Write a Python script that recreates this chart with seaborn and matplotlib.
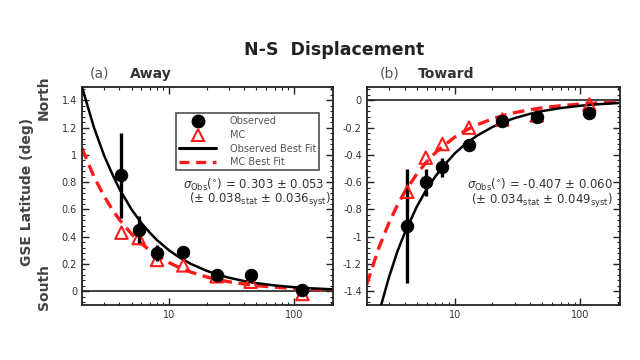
import matplotlib
matplotlib.use("Agg")
import matplotlib.pyplot as plt
import numpy as np
import pandas as pd
import seaborn as sns
from matplotlib.lines import Line2D
from matplotlib.ticker import MultipleLocator, FixedLocator, LogLocator, NullFormatter

# ---- data ----
bin_x_away = [4.15, 5.7, 8.0, 13, 24, 45, 117]
obs_away = [0.85, 0.45, 0.28, 0.285, 0.12, 0.12, 0.01]
obs_err_away = [0.31, 0.10, 0.06, 0.04, 0.03, 0.03, 0.02]
mc_away = [0.43, 0.39, 0.23, 0.19, 0.11, 0.07, -0.02]

bin_x_toward = [4.2, 5.9, 8.0, 13, 24, 45, 118]
obs_toward = [-0.92, -0.60, -0.49, -0.33, -0.15, -0.12, -0.09]
obs_err_toward = [0.42, 0.10, 0.07, 0.04, 0.03, 0.03, 0.02]
mc_toward = [-0.67, -0.42, -0.32, -0.20, -0.14, -0.11, -0.03]

fit_x = [2, 2.5, 3, 3.5, 4, 5, 6, 7, 8, 10, 12, 15, 20, 25, 30, 40, 50, 70, 100, 140, 200]
fit_obs_away = [1.50, 1.20, 1.00, 0.86, 0.75, 0.60, 0.50, 0.43, 0.375, 0.30, 0.25, 0.20,
                0.15, 0.12, 0.10, 0.075, 0.06, 0.043, 0.03, 0.021, 0.015]
fit_mc_away = [1.05, 0.84, 0.70, 0.60, 0.525, 0.42, 0.35, 0.30, 0.26, 0.21, 0.175, 0.14,
               0.105, 0.084, 0.07, 0.053, 0.042, 0.03, 0.021, 0.015, 0.0105]
fit_obs_toward = [-1.95, -1.56, -1.30, -1.11, -0.975, -0.78, -0.65, -0.56, -0.49, -0.39, -0.325,
                  -0.26, -0.195, -0.156, -0.13, -0.098, -0.078, -0.056, -0.039, -0.028, -0.0195]
fit_mc_toward = [-1.35, -1.08, -0.90, -0.77, -0.675, -0.54, -0.45, -0.386, -0.34, -0.27, -0.225,
                 -0.18, -0.135, -0.108, -0.09, -0.068, -0.054, -0.039, -0.027, -0.019, -0.0135]

away_ticks = [0, 0.2, 0.4, 0.6, 0.8, 1, 1.2, 1.4]
away_labels = ["0", "0.2", "0.4", "0.6", "0.8", "1", "1.2", "1.4"]
toward_ticks = [0, -0.2, -0.4, -0.6, -0.8, -1, -1.2, -1.4]
toward_labels = ["0", "-0.2", "-0.4", "-0.6", "-0.8", "-1", "-1.2", "-1.4"]

sns.set_style("ticks")
plt.rcParams["font.family"] = ["DejaVu Sans"]
TXT = "#333333"
RED = "#ff1a1a"

fig = plt.figure(figsize=(6.4, 3.6), dpi=100)
ax_a = fig.add_axes([0.128, 0.153, 0.392, 0.606])
ax_b = fig.add_axes([0.573, 0.153, 0.395, 0.606])


def draw_panel(ax, bx, obs, err, mc, fobs, fmc, ylim, ticks, labels):
    fits = pd.DataFrame({"x": fit_x, "obs": fobs, "mc": fmc})
    ax.axhline(0, color="#222222", lw=1.2, zorder=1)
    sns.lineplot(data=fits, x="x", y="mc", ax=ax, color=RED, lw=2.4,
                 linestyle=(0, (3.5, 2)), zorder=2)
    sns.lineplot(data=fits, x="x", y="obs", ax=ax, color="black", lw=1.8, zorder=3)
    ax.errorbar(bx, obs, yerr=err, fmt="none", ecolor="black", elinewidth=2.4, zorder=4)
    ax.scatter(bx, mc, marker="^", s=80, facecolors="none", edgecolors=RED,
               linewidths=1.5, zorder=5)
    sns.scatterplot(x=bx, y=obs, ax=ax, color="black", s=80, edgecolor="black", zorder=6)
    ax.set_xscale("log")
    ax.set_xlim(2, 205)
    ax.set_ylim(*ylim)
    ax.xaxis.set_major_locator(FixedLocator([10, 100]))
    ax.set_xticklabels(["10", "100"])
    ax.xaxis.set_minor_locator(LogLocator(base=10, subs=np.arange(2, 10)))
    ax.xaxis.set_minor_formatter(NullFormatter())
    ax.yaxis.set_major_locator(FixedLocator(ticks))
    ax.set_yticklabels(labels)
    ax.yaxis.set_minor_locator(MultipleLocator(0.04))
    ax.tick_params(which="both", direction="in", top=True, right=True,
                   labelsize=7, labelcolor=TXT, color="#222222")
    ax.tick_params(which="major", length=5, width=1)
    ax.tick_params(which="minor", length=2.5, width=0.8)
    for sp in ax.spines.values():
        sp.set_linewidth(1.3)
        sp.set_color("#222222")
    ax.set_xlabel("")
    ax.set_ylabel("")


draw_panel(ax_a, bin_x_away, obs_away, obs_err_away, mc_away,
           fit_obs_away, fit_mc_away, (-0.1, 1.5), away_ticks, away_labels)
draw_panel(ax_b, bin_x_toward, obs_toward, obs_err_toward, mc_toward,
           fit_obs_toward, fit_mc_toward, (-1.5, 0.1), toward_ticks, toward_labels)

handles = [
    Line2D([], [], marker="o", color="black", ls="none", markersize=9),
    Line2D([], [], marker="^", markerfacecolor="none", markeredgecolor=RED, ls="none",
           markersize=9, markeredgewidth=1.5),
    Line2D([], [], color="black", lw=2.2),
    Line2D([], [], color=RED, lw=2.4, ls=(0, (3, 2))),
]
leg = ax_a.legend(handles, ["Observed", "MC", "Observed Best Fit", "MC Best Fit"],
                  loc="upper right", bbox_to_anchor=(0.965, 0.9), fontsize=7,
                  frameon=True, fancybox=False, edgecolor="#222222",
                  handlelength=3.8, labelspacing=0.38, borderpad=0.3, handletextpad=1.4)
leg.get_frame().set_linewidth(1.2)
for t in leg.get_texts():
    t.set_color("#555555")

ax_a.text(0.965, 0.552, r"$\sigma_{\rm Obs}(^{\circ})$ = 0.303 $\pm$ 0.053",
          transform=ax_a.transAxes, ha="right", va="center", fontsize=8.5, color=TXT)
ax_a.text(0.99, 0.48, r"($\pm$ 0.038$_{\rm stat}$ $\pm$ 0.036$_{\rm syst}$)",
          transform=ax_a.transAxes, ha="right", va="center", fontsize=8.5, color=TXT)
ax_b.text(0.975, 0.55, r"$\sigma_{\rm Obs}(^{\circ})$ = -0.407 $\pm$ 0.060",
          transform=ax_b.transAxes, ha="right", va="center", fontsize=8.5, color=TXT)
ax_b.text(0.975, 0.475, r"($\pm$ 0.034$_{\rm stat}$ $\pm$ 0.049$_{\rm syst}$)",
          transform=ax_b.transAxes, ha="right", va="center", fontsize=8.5, color=TXT)

fig.text(0.522, 0.862, "N-S  Displacement", ha="center", va="center",
         fontsize=12.5, fontweight="bold", color="#222222")
fig.text(0.14, 0.795, "(a)", ha="left", va="center", fontsize=10, color="#555555")
fig.text(0.203, 0.795, "Away", ha="left", va="center", fontsize=10, fontweight="bold", color="#333333")
fig.text(0.594, 0.795, "(b)", ha="left", va="center", fontsize=10, color="#555555")
fig.text(0.653, 0.795, "Toward", ha="left", va="center", fontsize=10, fontweight="bold", color="#333333")

fig.text(0.042, 0.467, "GSE Latitude (deg)", rotation=90, ha="center", va="center",
         fontsize=10, fontweight="bold", color="#444444")
fig.text(0.068, 0.73, "North", rotation=90, ha="center", va="center",
         fontsize=10, fontweight="bold", color="#444444")
fig.text(0.068, 0.203, "South", rotation=90, ha="center", va="center",
         fontsize=10, fontweight="bold", color="#444444")

fig.savefig("out.png", dpi=100)
